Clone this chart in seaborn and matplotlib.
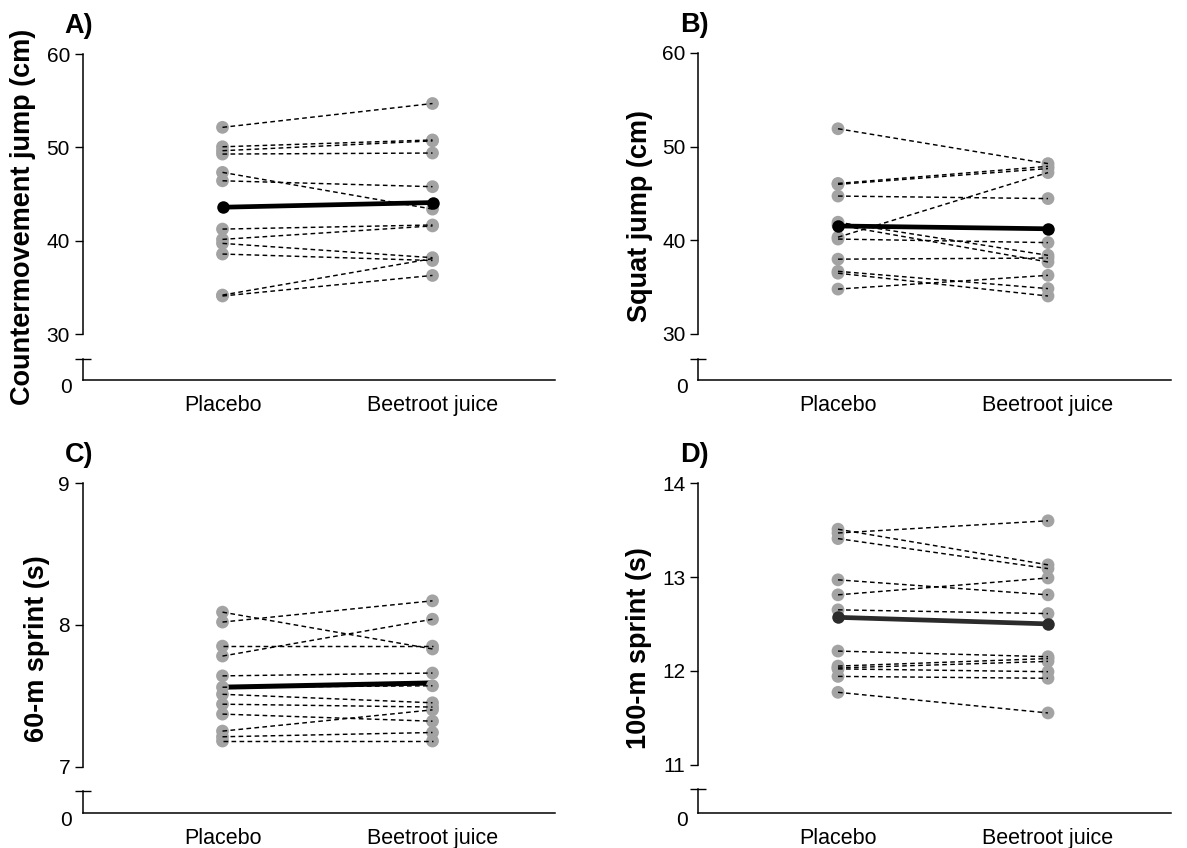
import numpy as np
import pandas as pd
import matplotlib
matplotlib.use("Agg")
import matplotlib.pyplot as plt
import matplotlib.transforms as mtransforms
import seaborn as sns

# ---------------- data ----------------
conditions = ["Placebo", "Beetroot juice"]

cmj_placebo = [52.15, 50.07, 49.65, 49.29, 47.33, 46.43, 41.26, 40.16, 39.73, 38.59, 34.2, 34.1]
cmj_beetroot = [54.7, 50.8, 50.7, 49.4, 43.4, 45.8, 41.7, 41.6, 38.2, 37.9, 38.1, 36.3]
cmj_mean = [43.6, 44.1]

sj_placebo = [51.9, 46.05, 45.95, 44.7, 41.9, 41.6, 40.3, 40.1, 37.95, 36.65, 36.45, 34.75]
sj_beetroot = [48.17, 47.88, 47.64, 44.43, 38.36, 37.65, 47.21, 39.72, 38.07, 34.8, 34.01, 36.22]
sj_mean = [41.5, 41.2]

s60_placebo = [8.09, 8.02, 7.85, 7.78, 7.64, 7.56, 7.51, 7.44, 7.37, 7.25, 7.21, 7.18]
s60_beetroot = [7.83, 8.17, 7.85, 8.04, 7.66, 7.57, 7.45, 7.42, 7.32, 7.40, 7.24, 7.18]
s60_mean = [7.56, 7.59]

s100_placebo = [13.47, 13.51, 13.41, 12.97, 12.81, 12.65, 12.21, 12.05, 12.03, 12.02, 11.94, 11.77]
s100_beetroot = [13.60, 13.13, 13.09, 12.81, 12.99, 12.61, 12.15, 12.13, 12.10, 11.99, 11.92, 11.55]
s100_mean = [12.57, 12.50]

panel_letters = ["A)", "B)", "C)", "D)"]
ylabels = ["Countermovement jump (cm)", "Squat jump (cm)", "60-m sprint (s)", "100-m sprint (s)"]
yticks_list = [[30, 40, 50, 60], [30, 40, 50, 60], [7, 8, 9], [11, 12, 13, 14]]

# ---------------- style ----------------
sns.set_style("white")
plt.rcParams["font.family"] = ["Liberation Sans", "DejaVu Sans"]
plt.rcParams["axes.linewidth"] = 1.1
plt.rcParams["text.color"] = "black"
plt.rcParams["axes.labelcolor"] = "black"
plt.rcParams["xtick.color"] = "black"
plt.rcParams["ytick.color"] = "black"

W, H = 1187, 848
fig = plt.figure(figsize=(W / 100, H / 100), dpi=100)


def add_px(left, top, right, bottom):
    return fig.add_axes([left / W, 1 - bottom / H, (right - left) / W, (bottom - top) / H])


# layout in pixels: left, right, upper top, upper bottom, lower top, lower bottom
layouts = [
    (82.5, 555, 54, 334.3, 359.3, 380),
    (698, 1170.5, 53, 333.5, 359, 380),
    (82.5, 555, 483.3, 766.5, 791, 813),
    (698, 1170.5, 483.3, 764.5, 789, 813),
]
ylabel_offsets = [59, 58, 45, 59]

panels = [
    (cmj_placebo, cmj_beetroot, cmj_mean, "black", True),
    (sj_placebo, sj_beetroot, sj_mean, "black", True),
    (s60_placebo, s60_beetroot, s60_mean, "black", False),
    (s100_placebo, s100_beetroot, s100_mean, "#2b2b2b", True),
]

GREY = "#a3a3a3"
TICK_LEN = 5.8
PX_PER_UNIT = 210.0
PLACEBO_OFF = 140.0

for i, (pl, bj, mn, mcolor, mmarker) in enumerate(panels):
    left, right, ut, ub, lt, lb = layouts[i]
    ax = add_px(left, ut, right, ub)
    axl = add_px(left, lt, right, lb)

    n = len(pl)
    df = pd.DataFrame({
        "subject": list(range(n)) * 2,
        "x": [0] * n + [1] * n,
        "value": list(pl) + list(bj),
    })
    mdf = pd.DataFrame({"x": [0, 1], "value": mn})

    width_px = right - left
    xlim = (-PLACEBO_OFF / PX_PER_UNIT, (width_px - PLACEBO_OFF) / PX_PER_UNIT)

    if not mmarker:
        sns.lineplot(data=mdf, x="x", y="value", color=mcolor, lw=3.6, ax=ax,
                     zorder=1, legend=False)
    sns.scatterplot(data=df, x="x", y="value", color=GREY, s=85, edgecolor="none",
                    linewidth=0, ax=ax, zorder=2, legend=False, clip_on=False)
    sns.lineplot(data=df, x="x", y="value", units="subject", estimator=None,
                 color="black", lw=1.05, linestyle=(0, (3.2, 2.3)), ax=ax,
                 zorder=3, legend=False)
    if mmarker:
        sns.lineplot(data=mdf, x="x", y="value", color=mcolor, lw=3.4, marker="o",
                     markersize=9, markeredgewidth=0, ax=ax, zorder=4, legend=False)

    yt = yticks_list[i]
    ax.set_xlim(*xlim)
    ax.set_ylim(yt[0], yt[-1])
    ax.set_yticks(yt)
    ax.set_yticklabels([str(t) for t in yt])
    ax.set_yticks([yt[0]], minor=True)
    ax.tick_params(axis="y", which="major", left=True, direction="out", length=TICK_LEN,
                   width=1.0, pad=3.2, labelsize=15, colors="black")
    ax.tick_params(axis="y", which="minor", left=True, direction="in", length=TICK_LEN,
                   width=1.0, colors="black")
    ax.set_xticks([])
    ax.set_xlabel("")
    ax.set_ylabel("")
    for s in ["top", "right", "bottom"]:
        ax.spines[s].set_visible(False)
    ax.spines["left"].set_color("black")
    ax.patch.set_alpha(0)

    # lower (broken) axis segment
    axl.set_xlim(*xlim)
    axl.set_ylim(0, 1)
    axl.set_yticks([0])
    axl.set_yticklabels(["0"])
    axl.set_yticks([1], minor=True)
    axl.tick_params(axis="y", which="major", left=True, length=0, pad=7.5, labelsize=15,
                    colors="black")
    axl.tick_params(axis="y", which="minor", left=True, direction="inout",
                    length=2 * TICK_LEN, width=1.0, colors="black")
    axl.set_xticks([0, 1])
    axl.set_xticklabels(conditions)
    axl.tick_params(axis="x", bottom=True, length=0, pad=11, labelsize=15.5, colors="black")
    for s in ["top", "right"]:
        axl.spines[s].set_visible(False)
    axl.spines["left"].set_color("black")
    axl.spines["bottom"].set_color("black")
    axl.patch.set_alpha(0)
    shift = mtransforms.ScaledTranslation(0, -5 / 100, fig.dpi_scale_trans)
    for lab in axl.get_yticklabels():
        lab.set_transform(lab.get_transform() + shift)

    # y-axis title centred over the whole broken axis
    yc = (ut + lb) / 2
    fig.text((left - ylabel_offsets[i]) / W, 1 - yc / H, ylabels[i], rotation=90,
             ha="center", va="center", fontsize=19.5, fontweight="bold", color="black")
    # panel letter
    fig.text((left - 18) / W, 1 - (ut - 28) / H, panel_letters[i], ha="left",
             va="center", fontsize=19.5, fontweight="bold", color="black")

fig.savefig("out.png", dpi=100, facecolor="white")
